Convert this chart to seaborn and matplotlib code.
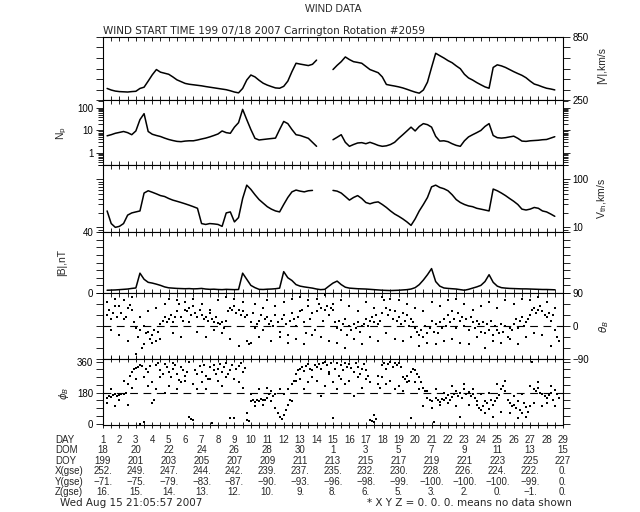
import numpy as np
import pandas as pd
import matplotlib
matplotlib.use("Agg")
import matplotlib.pyplot as plt
import matplotlib.transforms as mtransforms
from matplotlib.ticker import FixedLocator, FixedFormatter, LogLocator, NullFormatter, MultipleLocator
import seaborn as sns

# start of the rotation (day of year); samples are 6-hourly / 3-hourly
doy_start = 199.0

# bulk speed |V| km/s, 4 samples per day
v_kms = [
    np.nan, 360, 345, 335,   330, 328, 326, 330,   333, 360, 372, 430,
    490, 540, 515, 505,      495, 470, 442, 425,   408, 400, 395, 390,
    385, 378, 372, 366,      360, 354, 348, 338,   326, 318, 360, 440,
    488, 470, 438, 410,      392, 378, 365, 362,   380, 430, 520, 600,
    592, 585, 578, 590,      630, np.nan, np.nan, np.nan,   540, 580, 615, 660,
    635, 615, 608, 600,      570, 540, 525, 510,   470, 398, 390, 383,
    375, 365, 352, 338,      325, 315, 345, 420,   560, 695, 672, 650,
    625, 605, 575, 548,      495, 460, 440, 416,   395, 375, 362, 560,
    585, 575, 560, 540,      520, 502, 485, 462,   430, 402, 390, 375,
    362, 355, 346, np.nan,
]

# proton density Np, 4 samples per day
np_cc = [
    np.nan, 5.8, 6.5, 7.5,   8.2, 9.0, 8.0, 6.5,   9.5, 30, 55, 9,
    6.8, 6.0, 5.4, 4.6,      4.0, 3.6, 3.3, 3.2,   3.4, 3.5, 3.5, 3.8,
    4.2, 4.6, 5.2, 6.0,      7.0, 9.5, 8.0, 7.5,   14, 22, 85, 30,
    11, 4.5, 3.8, 4.0,       4.2, 4.4, 4.6, 11,    25, 20, 11, 6.5,
    6.0, 5.2, 4.5, 3.0,      2.0, np.nan, np.nan, np.nan,   3.9, 5.0, 6.5, 3.0,
    2.0, 2.4, 2.8, 2.9,      2.6, 3.0, 2.6, 2.2,   2.0, 2.1, 2.4, 3.0,
    4.5, 6.5, 9.5, 14,       9.5, 15, 20, 18,      14, 5.5, 3.4, 3.5,
    3.2, 2.6, 2.2, 2.0,      3.5, 5.2, 6.5, 8,     10, 15, 20, 6,
    4.8, 4.6, 4.8, 5.2,      5.6, 4.5, 3.4, 3.3,   3.5, 3.6, 3.7, 3.9,
    4.0, 4.6, 5.3, np.nan,
]

# thermal speed Vth km/s, 4 samples per day
vth_kms = [
    np.nan, 22, 12, 10,      10.5, 12, 18, 20,     21, 22, 52, 58,
    54, 50, 46, 44,          40, 37, 35, 33,       31, 29, 27, 25,
    12, 11.5, 12, 11.8,      11.5, 10.5, 20, 21,   13, 16, 40, 76,
    62, 48, 38, 32,          27, 24, 22, 21,       30, 42, 55, 60,
    57, 55, 58, 59,          np.nan, np.nan, np.nan, np.nan,   59, 57, 52, 44,
    37, 42, 46, 40,          33, 31, 33, 34,       30, 26, 22, 19,
    17, 15, 13, 11,          15, 22, 30, 42,       70, 76, 68, 64,
    58, 48, 38, 33,          30, 28, 27, 25,       24, 23, 22, 63,
    58, 52, 46, 40,          35, 30, 24, 23,       24, 26, 25, 22,
    21, 19, 17, np.nan,
]

# field magnitude |B| nT, 4 samples per day
b_nt = [
    np.nan, 1.8, 1.9, 2.0,   2.2, 2.4, 2.6, 3.0,   3.3, 13, 9, 7,
    6.5, 5.8, 5.0, 4.0,      3.4, 3.2, 3.0, 2.9,   2.8, 2.9, 2.7, 2.8,
    3.0, 2.6, 2.4, 2.5,      2.3, 2.2, 2.4, 2.3,   2.2, 2.3, 13, 9,
    5, 3.5, 2.4, 2.3,        2.5, 2.6, 2.8, 3.2,   14, 10, 8.2, 5.5,
    4.5, 4.0, 3.6, 3.2,      2.6, 2.2, 2.4, 4.5,   6.5, 7.8, 5.5, 3.8,
    3.2, 3.0, 2.8, 2.7,      2.6, 2.4, 2.2, 2.0,   1.8, 1.7, 1.6, 1.7,
    1.8, 2.0, 2.2, 2.6,      3.5, 5.5, 8.5, 12,    16, 7.5, 4.5, 3.3,
    3.0, 2.8, 2.6, 2.2,      1.8, 2.4, 3.2, 4.0,   5.0, 7.5, 12, 7.0,
    4.5, 3.5, 3.2, 3.0,      2.9, 2.8, 2.7, 2.7,   2.6, 2.5, 2.4, 2.3,
    2.3, 2.2, 2.1, np.nan,
]

# field latitude theta_B deg: main trace (8 per day) and scattered points (4 per day)
theta_main = [
    np.nan, np.nan, 30, 45, 20, 35, 55, 25,
    55, 35, 20, 25, 50, 58, 45, 10,
    -5, -30, -10, -60, 0, -20, -15, -35,
    -25, -10, -40, -15, 5, 15, 25, 10,
    20, 30, 10, 25, 40, 60, 25, 15,
    45, 40, 50, 30, 55, 35, 25, 45,
    30, 20, 25, 15, 35, 20, 10, 25,
    8, 5, 10, -5, 15, 40, 50, 45,
    55, 35, 45, 30, 40, 25, 30, -50,
    10, 35, -5, 5, 15, 30, -10, 20,
    25, 5, 15, 0, 30, 10, -15, 20,
    30, 5, -25, 15, 35, 20, 0, 25,
    40, 45, 10, -20, 55, 20, 35, -10,
    40, 60, 50, 15, 45, 55, 30, 50,
    45, 10, -5, 15, -10, 5, 20, -25,
    0, -10, 5, -5, 10, -15, 0, 5,
    20, 0, 15, 25, 10, 30, 5, 15,
    35, 70, 50, 30, 45, 20, 40, 15,
    25, 5, 35, 15, 30, 0, 20, 10,
    -5, -15, -25, -10, -30, 0, -20, -5,
    15, -15, 5, -20, 10, -5, 20, 0,
    30, 10, 40, 20, -5, 35, 15, 25,
    0, 20, -10, 25, 10, -5, 15, 5,
    -15, 10, -20, 5, -10, 15, -25, 0,
    -10, -20, 5, -15, 0, -30, -5, -10,
    5, 20, -5, 15, 25, 0, 10, 20,
    30, 45, 50, 35, 45, 55, 40, 30,
    25, 35, 15, 30, -10, -30, -40, np.nan,
]
theta_spread = [
    np.nan, 65, -10, 75,  -25, 70, -40, 80,  -75, 25, -50, 40,  -45, 50, -35, 60,
    75, -20, 70, -30,     65, 10, 75, -15,   60, -30, 45, -10,  70, -20, 80, -35,
    75, -55, 65, -40,     -45, 60, -30, 50,  70, -40, 55, -30,  65, -45, 75, -35,
    80, -50, 70, -25,     75, -30, 85, -40,  60, -45, 70, -60,  55, -35, 40, -50,
    65, -30, 50, -40,     80, -20, 75, -35,  70, -40, 60, -30,  50, -55, 40, -45,
    65, -50, 55, -40,     70, -35, 75, -45,  60, -50, 45, -30,  55, -60, 65, -40,
    50, -45, 70, -35,     60, -50, 75, -30,  70, -20, 80, -25,  65, -55, 50, np.nan,
]

# field longitude phi_B deg: main trace (8 per day) and scattered points (4 per day)
phi_main = [
    np.nan, np.nan, 150, 160, 155, 165, 170, 160,
    165, 170, 175, 180, 230, 280, 300, 315,
    325, 330, 340, 335, 10, 320, 300, 335,
    120, 140, 340, 355, 310, 290, 345, 330,
    300, 270, 320, 340, 290, 255, 330, 310,
    280, 300, 40, 25, 20, 310, 290, 335,
    300, 340, 280, 260, 330, 5, 310, 290,
    320, 345, 300, 330, 350, 290, 310, 340,
    30, 320, 335, 350, 300, 325, 20, 15,
    130, 135, 125, 140, 130, 145, 135, 140,
    150, 170, 190, 160, 175, 60, 40, 25,
    50, 80, 110, 140, 130, 250, 290, 310,
    320, 330, 305, 335, 345, 320, 310, 340,
    330, 345, 315, 350, 360, 340, 300, 355,
    30, 320, 350, 280, 340, 310, 355, 330,
    345, 325, 300, 350, 330, 290, 320, 345,
    310, 280, 20, 15, 10, 25, 230, 210,
    340, 355, 320, 345, 360, 330, 350, 340,
    355, 330, 270, 260, 280, 250, 300, 320,
    310, 290, 270, 240, 210, 190, 150, 140,
    130, 10, 150, 140, 125, 145, 135, 150,
    165, 140, 155, 175, 190, 160, 180, 150,
    200, 170, 185, 160, 175, 150, 110, 90,
    80, 100, 130, 120, 85, 140, 110, 130,
    150, 165, 200, 220, 190, 140, 120, 100,
    110, 90, 130, 80, 60, 120, 95, 70,
    100, 360, 200, 190, 205, 180, 170, 160,
    150, 165, 180, 140, 195, 170, 150, np.nan,
]
phi_spread = [
    np.nan, 120, 200, 100,  140, 250, 110, 210,  260, 0, 270, 220,  240, 200, 270, 180,
    220, 350, 200, 240,     250, 360, 230, 200,  240, 200, 260, 340,  250, 220, 270, 30,
    260, 240, 210, 60,      170, 100, 200, 110,  210, 130, 90, 200,   170, 200, 230, 250,
    260, 200, 240, 270,     250, 160, 220, 290,  240, 200, 260, 230,  250, 160, 270, 210,
    260, 240, 50, 280,      270, 230, 250, 200,  220, 190, 240, 30,   240, 200, 100, 190,
    90, 200, 110, 180,      120, 220, 100, 40,   230, 110, 200, 130,  170, 60, 180, 40,
    230, 70, 250, 60,       160, 30, 170, 40,    220, 120, 240, 100,  120, 220, 100, np.nan,
]

# table under the plot
day_labels = ["1", "2", "3", "4", "5", "6", "7", "8", "9", "10", "11", "12", "13", "14", "15",
              "16", "17", "18", "19", "20", "21", "22", "23", "24", "25", "26", "27", "28", "29"]
dom_labels = ["18", "20", "22", "24", "26", "28", "30", "1", "3", "5", "7", "9", "11", "13", "15"]
doy_labels = ["199", "201", "203", "205", "207", "209", "211", "213", "215", "217", "219", "221", "223", "225", "227"]
x_gse = ["252.", "249.", "247.", "244.", "242.", "239.", "237.", "235.", "232.", "230.", "228.", "226.", "224.", "222.", "0."]
y_gse = ["\u221271.", "\u221275.", "\u221279.", "\u221283.", "\u221287.", "\u221290.", "\u221293.", "\u221296.",
         "\u221298.", "\u221299.", "\u2212100.", "\u2212100.", "\u2212100.", "\u221299.", "0."]
z_gse = ["16.", "15.", "14.", "13.", "12.", "10.", "9.", "8.", "6.", "5.", "3.", "2.", "0.", "\u22121.", "0."]


def series(vals, per_day, name):
    t = doy_start + np.arange(len(vals)) / per_day
    df = pd.DataFrame({"doy": t, name: vals})
    df["seg"] = df[name].isna().cumsum()
    return df.dropna()


sns.set_theme(style="white")
plt.rcParams["font.family"] = ["Liberation Sans", "DejaVu Sans"]
plt.rcParams["mathtext.fontset"] = "dejavusans"

W, H = 640, 512
fig = plt.figure(figsize=(6.4, 5.12), dpi=100)
X0, X1 = 103, 563


def panel(top, bottom):
    ax = fig.add_axes([X0 / W, 1 - bottom / H, (X1 - X0) / W, (bottom - top) / H])
    return ax


def finish(ax):
    ax.set_xlim(199, 227)
    ax.set_xlabel("")
    ax.set_ylabel("")
    ax.xaxis.set_major_locator(MultipleLocator(0.5))
    ax.tick_params(axis="x", which="both", direction="in", top=True, bottom=True,
                   length=3, width=0.6, color="black", labelbottom=False)
    ax.tick_params(axis="y", which="major", direction="out", left=True, right=True,
                   length=5, width=0.6, color="black", labelsize=7, pad=2, labelcolor="black")
    ax.tick_params(axis="y", which="minor", direction="out", left=True, right=True,
                   length=3.5, width=0.6, color="black")
    for s in ax.spines.values():
        s.set_color("black")
        s.set_linewidth(0.8)


line_kw = dict(x="doy", units="seg", estimator=None, color="black", linewidth=1.1)
dot_kw = dict(x="doy", color="black", s=3, marker="s", linewidth=0)

# |V|
ax1 = panel(37, 100)
sns.lineplot(data=series(v_kms, 4, "v"), y="v", ax=ax1, **line_kw)
ax1.set_ylim(250, 850)
ax1.yaxis.set_major_locator(FixedLocator([250, 350, 450, 550, 650, 750, 850]))
ax1.yaxis.set_major_formatter(FixedFormatter(["250", "", "", "", "", "", "850"]))
finish(ax1)
ax1.tick_params(axis="y", labelleft=False, labelright=True)

# Np
ax2 = panel(100, 165)
ax2.set_yscale("log")
sns.lineplot(data=series(np_cc, 4, "n"), y="n", ax=ax2, **line_kw)
ax2.set_ylim(0.3, 220)
ax2.yaxis.set_major_locator(FixedLocator([1, 10, 100]))
ax2.yaxis.set_major_formatter(FixedFormatter(["1", "10", "100"]))
ax2.yaxis.set_minor_locator(LogLocator(base=10, subs=np.arange(2, 10)))
ax2.yaxis.set_minor_formatter(NullFormatter())
finish(ax2)
ax2.tick_params(axis="y", labelleft=True, labelright=False)

# Vth
ax3 = panel(165, 232)
ax3.set_yscale("log")
sns.lineplot(data=series(vth_kms, 4, "w"), y="w", ax=ax3, **line_kw)
ax3.set_ylim(8, 200)
ax3.yaxis.set_major_locator(FixedLocator([10, 100]))
ax3.yaxis.set_major_formatter(FixedFormatter(["10", "100"]))
ax3.yaxis.set_minor_locator(LogLocator(base=10, subs=np.arange(2, 10)))
ax3.yaxis.set_minor_formatter(NullFormatter())
finish(ax3)
ax3.tick_params(axis="y", labelleft=False, labelright=True)

# |B|
ax4 = panel(232, 293)
sns.lineplot(data=series(b_nt, 4, "b"), y="b", ax=ax4, **line_kw)
ax4.set_ylim(0, 40)
ax4.yaxis.set_major_locator(FixedLocator([0, 5, 10, 15, 20, 25, 30, 35, 40]))
ax4.yaxis.set_major_formatter(FixedFormatter(["0", "", "", "", "", "", "", "", "40"]))
finish(ax4)
ax4.tick_params(axis="y", labelleft=True, labelright=False)

# theta_B
ax5 = panel(293, 359)
th = pd.concat([series(theta_main, 8, "th"), series(theta_spread, 4, "th")])
sns.scatterplot(data=th, y="th", ax=ax5, **dot_kw)
ax5.axhline(0, color="black", linewidth=0.8, linestyle=(0, (7, 5)))
ax5.set_ylim(-90, 90)
ax5.yaxis.set_major_locator(FixedLocator([-90, -60, -30, 0, 30, 60, 90]))
ax5.yaxis.set_major_formatter(FixedFormatter(["\u221290", "", "", "0", "", "", "90"]))
finish(ax5)
ax5.tick_params(axis="y", labelleft=False, labelright=True)

# phi_B
ax6 = panel(359, 425)
ph = pd.concat([series(phi_main, 8, "ph"), series(phi_spread, 4, "ph")])
sns.scatterplot(data=ph, y="ph", ax=ax6, **dot_kw)
ax6.axhline(180, color="black", linewidth=0.8, linestyle=(0, (7, 5)))
ax6.set_ylim(-8, 376)
ax6.yaxis.set_major_locator(FixedLocator([0, 45, 90, 135, 180, 225, 270, 315, 360]))
ax6.yaxis.set_major_formatter(FixedFormatter(["0", "", "", "", "180", "", "", "", "360"]))
finish(ax6)
ax6.tick_params(axis="y", labelleft=True, labelright=False)
ax6.tick_params(axis="x", which="both", bottom=True, direction="inout", length=5)


def ftext(x, y, s, **kw):
    fig.text(x / W, 1 - y / H, s, **kw)


# titles
ftext(333, 9, "WIND DATA", ha="center", va="center", fontsize=7.5)
ftext(X0, 36.5, "WIND START TIME 199 07/18 2007 Carrington Rotation #2059",
      ha="left", va="bottom", fontsize=7.5, family="DejaVu Sans")

# axis labels
ftext(602, 66, "|V|,km/s", rotation=90, ha="center", va="center", fontsize=7.5)
ftext(602, 198, r"V$_{\rm th}$,km/s", rotation=90, ha="center", va="center", fontsize=7.5)
ftext(604, 327, r"$\theta_B$", rotation=90, ha="center", va="center", fontsize=7.5)
ftext(62, 133, r"N$_{\rm p}$", rotation=90, ha="center", va="center", fontsize=7.5)
ftext(62, 263, "|B|,nT", rotation=90, ha="center", va="center", fontsize=7.5)
ftext(64, 393, r"$\phi_B$", rotation=90, ha="center", va="center", fontsize=7.5)

# table of days / positions
tr = mtransforms.blended_transform_factory(ax6.transData, fig.transFigure)
rows = [("DAY", 440), ("DOM", 450), ("DOY", 461), ("X(gse)", 471), ("Y(gse)", 482), ("Z(gse)", 492)]
for lab, yp in rows:
    ftext(55, yp, lab, ha="left", va="center", fontsize=7)

for k, lab in enumerate(day_labels):
    fig.text(199 + k, 1 - 440 / H, lab, transform=tr, ha="center", va="center", fontsize=7)
for vals, yp in [(dom_labels, 450), (doy_labels, 461), (x_gse, 471), (y_gse, 482), (z_gse, 492)]:
    for k, lab in enumerate(vals):
        fig.text(199 + 2 * k, 1 - yp / H, lab, transform=tr, ha="center", va="center", fontsize=7)

ftext(60, 503, "Wed Aug 15 21:05:57 2007", ha="left", va="center", fontsize=7.5, family="DejaVu Sans")
ftext(572, 503, "* X Y Z = 0. 0. 0. means no data shown", ha="right", va="center",
      fontsize=7.5, family="DejaVu Sans")

fig.savefig("out.png", dpi=100, facecolor="white")
